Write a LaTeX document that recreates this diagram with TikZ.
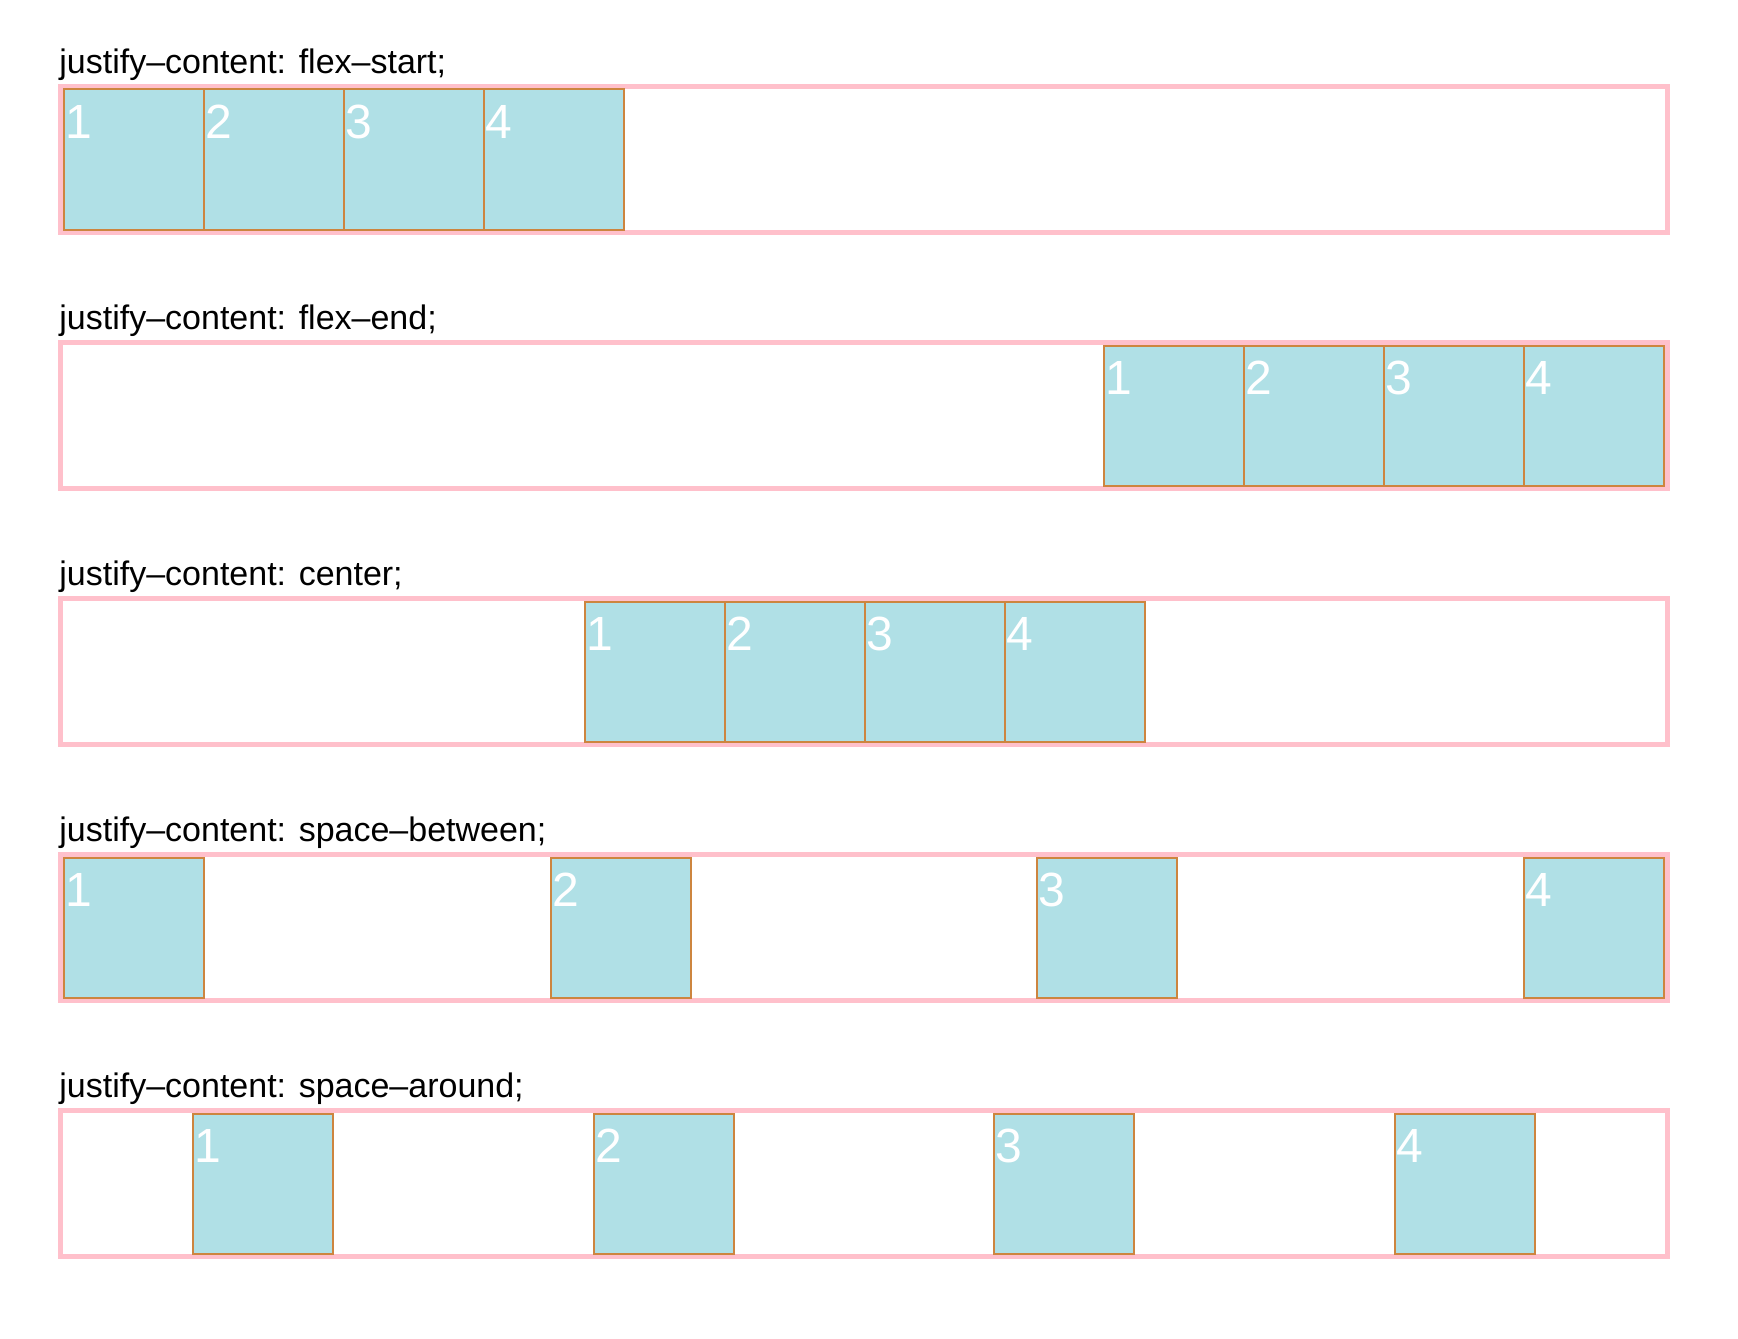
\documentclass[tikz,border=0pt]{standalone}
\usepackage{fontspec}
\setmainfont{Liberation Sans}
\usetikzlibrary{positioning}
\definecolor{rosa}{HTML}{FFC0CB}
\definecolor{azul}{HTML}{B0E0E6}
\definecolor{borda}{HTML}{CD853F}
\begin{document}
\begin{tikzpicture}[
      x=0.5pt, y=-0.5pt,
      caixa/.style={draw=rosa, line width=2.5pt, minimum width=803.5pt, minimum height=73pt,
        anchor=north west, inner sep=0pt, outer sep=0pt},
      item/.style={draw=borda, fill=azul, line width=1pt, minimum width=70pt, minimum height=70pt,
        inner sep=0pt, outer sep=0pt},
      titulo/.style={anchor=base west, inner sep=0pt, font=\fontsize{17}{20}\selectfont},
      num/.style={anchor=base west, inner sep=0pt, text=white, font=\fontsize{24}{28}\selectfont}
    ]
    \useasboundingbox (0,0) rectangle (1738,1338);
    % flex-start
    \node[titulo] (t1) at (59,73.3) {justify–content: flex–start;};
    \node[caixa] (k1) at (60.5,86.5) {};
    \node[item, anchor=north west] (a1) at (63.7,89.5) {};
    \node[item, right=0pt of a1] (a2) {};
    \node[item, right=0pt of a2] (a3) {};
    \node[item, right=0pt of a3] (a4) {};
    \node[num] at ([xshift=0.5pt,yshift=-24.5pt]a1.north west) {1};
    \node[num] at ([xshift=0.5pt,yshift=-24.5pt]a2.north west) {2};
    \node[num] at ([xshift=0.5pt,yshift=-24.5pt]a3.north west) {3};
    \node[num] at ([xshift=0.5pt,yshift=-24.5pt]a4.north west) {4};
    % flex-end
    \node[titulo] (t2) at (59,329.3) {justify–content: flex–end;};
    \node[caixa] (k2) at (60.5,342.5) {};
    \node[item, anchor=north west] (b1) at (1103.7,345.5) {};
    \node[item, right=0pt of b1] (b2) {};
    \node[item, right=0pt of b2] (b3) {};
    \node[item, right=0pt of b3] (b4) {};
    \node[num] at ([xshift=0.5pt,yshift=-24.5pt]b1.north west) {1};
    \node[num] at ([xshift=0.5pt,yshift=-24.5pt]b2.north west) {2};
    \node[num] at ([xshift=0.5pt,yshift=-24.5pt]b3.north west) {3};
    \node[num] at ([xshift=0.5pt,yshift=-24.5pt]b4.north west) {4};
    % center
    \node[titulo] (t3) at (59,585.3) {justify–content: center;};
    \node[caixa] (k3) at (60.5,598.5) {};
    \node[item, anchor=north west] (c1) at (585,601.5) {};
    \node[item, right=0pt of c1] (c2) {};
    \node[item, right=0pt of c2] (c3) {};
    \node[item, right=0pt of c3] (c4) {};
    \node[num] at ([xshift=0.5pt,yshift=-24.5pt]c1.north west) {1};
    \node[num] at ([xshift=0.5pt,yshift=-24.5pt]c2.north west) {2};
    \node[num] at ([xshift=0.5pt,yshift=-24.5pt]c3.north west) {3};
    \node[num] at ([xshift=0.5pt,yshift=-24.5pt]c4.north west) {4};
    % space-between
    \node[titulo] (t4) at (59,841.3) {justify–content: space–between;};
    \node[caixa] (k4) at (60.5,854.5) {};
    \node[item, anchor=north west] (d1) at (64,857.5) {};
    \node[item, right=173.35pt of d1] (d2) {};
    \node[item, right=173.35pt of d2] (d3) {};
    \node[item, right=173.35pt of d3] (d4) {};
    \node[num] at ([xshift=0.5pt,yshift=-24.5pt]d1.north west) {1};
    \node[num] at ([xshift=0.5pt,yshift=-24.5pt]d2.north west) {2};
    \node[num] at ([xshift=0.5pt,yshift=-24.5pt]d3.north west) {3};
    \node[num] at ([xshift=0.5pt,yshift=-24.5pt]d4.north west) {4};
    % space-around
    \node[titulo] (t5) at (59,1097.3) {justify–content: space–around;};
    \node[caixa] (k5) at (60.5,1110.5) {};
    \node[item, anchor=north west] (e1) at (193.3,1113.5) {};
    \node[item, right=130.25pt of e1] (e2) {};
    \node[item, right=130.25pt of e2] (e3) {};
    \node[item, right=130.25pt of e3] (e4) {};
    \node[num] at ([xshift=0.5pt,yshift=-24.5pt]e1.north west) {1};
    \node[num] at ([xshift=0.5pt,yshift=-24.5pt]e2.north west) {2};
    \node[num] at ([xshift=0.5pt,yshift=-24.5pt]e3.north west) {3};
    \node[num] at ([xshift=0.5pt,yshift=-24.5pt]e4.north west) {4};
  \end{tikzpicture}
\end{document}
